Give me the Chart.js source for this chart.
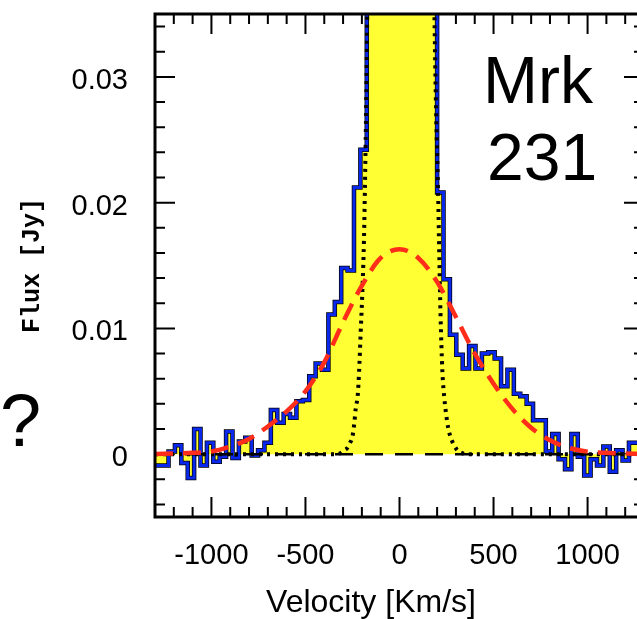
<!DOCTYPE html>
<html>
<head>
<meta charset="utf-8">
<script src="https://cdn.jsdelivr.net/npm/chart.js@4.4.1/dist/chart.umd.min.js"></script>
<style>
  html, body { margin: 0; padding: 0; background: #fff; overflow: hidden; }
  #frame { position: relative; width: 637px; height: 619px; overflow: hidden; }
  #box { position: absolute; left: 0; top: 0; width: 650px; height: 619px; }
  .note { position: absolute; font-family: 'Liberation Sans', Arial, sans-serif; color: #000; line-height: 1; white-space: nowrap; }
  #mrk { left: 483px; top: 47px; font-size: 66px; }
  #num { left: 487px; top: 124px; font-size: 66px; }
  #qm { left: 0px; top: 384px; font-size: 74px; }
  #xtitle { left: 371px; top: 585px; font-size: 32px; transform: translateX(-50%); }
</style>
</head>
<body>
<div id="frame">
  <div id="box"><canvas id="spec"></canvas></div>
  <div class="note" id="mrk">Mrk</div>
  <div class="note" id="num">231</div>
  <div class="note" id="qm">?</div>
  <div class="note" id="xtitle">Velocity [Km/s]</div>
</div>
<script>
// spectrum, binned: left edge of each bin (km/s) and flux (Jy)
const binEdges = [
  -1300, -1262, -1228, -1194, -1160, -1126, -1092, -1058, -1024, -990,
  -956, -922, -888, -854, -820, -786, -752, -718, -684, -650,
  -616, -582, -548, -514, -480, -446, -412, -378, -344, -310,
  -276, -242, -208, -174, -140, -106, -72, -38, -4, 30,
  64, 98, 132, 166, 200, 234, 268, 302, 336, 370,
  404, 438, 472, 506, 540, 574, 608, 642, 676, 710,
  744, 778, 812, 846, 880, 914, 948, 982, 1016, 1050,
  1084, 1118, 1152, 1186, 1220, 1254, 1288, 1300
];
const binFlux = [
  -0.0009, -0.0009, 0.0002, 0.0007, -0.0007, -0.0019, 0.0020, -0.0009, 0.0009, -0.0006,
  -0.0002, 0.0018, -0.0003, 0.0010, 0.0013, -0.0001, 0.0003, 0.0009, 0.0035, 0.0025,
  0.0032, 0.0029, 0.0042, 0.0043, 0.0062, 0.0072, 0.0067, 0.0111, 0.0121, 0.0148,
  0.0146, 0.0212, 0.0242, 0.041, 0.058, 0.079, 0.094, 0.104, 0.108, 0.103,
  0.090, 0.071, 0.052, 0.039, 0.0208, 0.0139, 0.0095, 0.0079, 0.0068, 0.0086,
  0.0068, 0.0080, 0.0081, 0.0076, 0.0054, 0.0067, 0.0048, 0.0046, 0.0040, 0.0027,
  0.0027, 0.0002, 0.0016, -0.0004, -0.0012, 0.0016, -0.0002, -0.0017, -0.0004, -0.0009,
  0.0006, -0.0014, 0.0003, -0.0005, 0.0009, 0.0009, 0.0004, 0.0004
];

// broad component (red dashed)
const broadVel = [-1300, -1200, -1100, -1000, -900, -800, -700, -600, -500, -400, -300, -200, -100,
  0, 100, 200, 300, 400, 500, 600, 700, 800, 900, 1000, 1100, 1200, 1300];
const broadFlux = [0, 0.00005, 0.0001, 0.0002, 0.0006, 0.0012, 0.0022, 0.0034, 0.0050, 0.0073, 0.0105, 0.0134, 0.0156,
  0.0163, 0.0156, 0.0137, 0.0109, 0.0080, 0.0056, 0.0036, 0.0021, 0.0011, 0.0005, 0.0002, 0.0001, 0.00005, 0];

// narrow component (black dotted), peak runs off the top
const narrowVel = [-1300, -330, -312, -295, -277, -263, -250, -240, -233, -222, -215, -206, -196, -189,
  -183, -177, -170, -160, -140, -100, -50, 0, 50, 100, 150, 175, 185, 195, 205, 212, 218, 228,
  238, 246, 260, 273, 290, 308, 330, 352, 1300];
const narrowFlux = [0, 0, 0.0001, 0.0003, 0.0005, 0.0009, 0.0014, 0.0025, 0.0036, 0.0047, 0.0065, 0.0098, 0.0135, 0.0170,
  0.022, 0.028, 0.037, 0.05, 0.09, 0.25, 0.5, 0.66, 0.52, 0.3, 0.09, 0.05, 0.036, 0.027, 0.021, 0.0155, 0.0112, 0.0066,
  0.0045, 0.0034, 0.0020, 0.0013, 0.0007, 0.0003, 0.0001, 0, 0];

const zeroVel = [-1300, 1300];
const zeroFlux = [0, 0];

const xMajor = [-1000, -500, 0, 500, 1000];
const xTickLabels = ['-1000', '-500', '0', '500', '1000'];
const yMajor = [0, 0.01, 0.02, 0.03];
const yTickLabels = ['0', '0.01', '0.02', '0.03'];

const pts = (xs, ys) => xs.map((v, i) => ({ x: v, y: ys[i] }));
const tickFont = { family: "'Liberation Sans', Arial, sans-serif", size: 29 };

// inward ticks on all four sides + heavy box, like the IDL original
const axisBox = {
  id: 'axisBox',
  beforeDatasetsDraw(chart) {
    const { ctx, chartArea: a, scales: { x, y } } = chart;
    ctx.save();
    ctx.strokeStyle = '#000';
    ctx.lineWidth = 2;
    ctx.beginPath();
    for (let i = -12; i <= 12; i++) {
      const px = x.getPixelForValue(i * 100);
      const len = i % 5 === 0 ? 20 : 10;
      ctx.moveTo(px, a.bottom); ctx.lineTo(px, a.bottom - len);
      ctx.moveTo(px, a.top); ctx.lineTo(px, a.top + len);
    }
    for (let i = -2; i <= 17; i++) {
      const py = y.getPixelForValue(i * 0.002);
      const len = i % 5 === 0 ? 20 : 10;
      ctx.moveTo(a.left, py); ctx.lineTo(a.left + len, py);
      ctx.moveTo(a.right, py); ctx.lineTo(a.right - len, py);
    }
    ctx.stroke();
    ctx.restore();
  },
  afterDatasetsDraw(chart) {
    const { ctx, chartArea: a } = chart;
    ctx.save();
    ctx.strokeStyle = '#000';
    ctx.lineWidth = 3;
    ctx.strokeRect(a.left, a.top, a.right - a.left, a.bottom - a.top);
    ctx.restore();
  }
};

new Chart(document.getElementById('spec'), {
  type: 'line',
  data: {
    datasets: [
      {
        label: 'broad',
        data: pts(broadVel, broadFlux),
        borderColor: 'rgb(255, 45, 25)',
        borderWidth: 4.5,
        borderDash: [18, 10],
        cubicInterpolationMode: 'monotone',
        pointRadius: 0,
        fill: false,
        order: 0,
      },
      {
        label: 'narrow',
        data: pts(narrowVel, narrowFlux),
        borderColor: '#000',
        borderWidth: 4,
        borderDash: [3, 5],
        cubicInterpolationMode: 'monotone',
        pointRadius: 0,
        fill: false,
        order: 1,
      },
      {
        label: 'zero',
        data: pts(zeroVel, zeroFlux),
        borderColor: '#000',
        borderWidth: 2.5,
        borderDash: [18, 12],
        pointRadius: 0,
        fill: false,
        order: 2,
      },
      {
        label: 'spectrum',
        data: pts(binEdges, binFlux),
        stepped: true,
        borderColor: 'rgb(10, 40, 235)',
        borderWidth: 3,
        pointRadius: 0,
        fill: false,
        order: 3,
      },
      {
        label: 'spectrum edge',
        data: pts(binEdges, binFlux),
        stepped: true,
        borderColor: '#000',
        borderWidth: 4.5,
        backgroundColor: '#ffff33',
        fill: 'origin',
        pointRadius: 0,
        order: 4,
      },
    ],
  },
  options: {
    responsive: true,
    maintainAspectRatio: false,
    devicePixelRatio: 1,
    animation: false,
    events: [],
    layout: { padding: { top: 14, right: 6, left: 0, bottom: 0 } },
    plugins: { legend: { display: false }, tooltip: { enabled: false } },
    scales: {
      x: {
        type: 'linear',
        min: -1300,
        max: 1300,
        grid: { display: false, drawTicks: false },
        border: { display: false },
        afterBuildTicks: (s) => { s.ticks = xMajor.map((v) => ({ value: v })); },
        afterFit: (s) => { s.height = 102; s.paddingLeft = 0; s.paddingRight = 0; },
        ticks: {
          font: tickFont,
          color: '#000',
          padding: 22,
          maxRotation: 0,
          autoSkip: false,
          callback: (v, i) => xTickLabels[i],
        },
      },
      y: {
        type: 'linear',
        min: -0.005,
        max: 0.035,
        grid: { display: false, drawTicks: false },
        border: { display: false },
        afterBuildTicks: (s) => { s.ticks = yMajor.map((v) => ({ value: v })); },
        afterFit: (s) => { s.width = 155; s.paddingTop = 0; s.paddingBottom = 0; },
        ticks: {
          font: tickFont,
          color: '#000',
          padding: 27,
          labelOffset: 4,
          autoSkip: false,
          callback: (v, i) => yTickLabels[i],
        },
        title: {
          display: true,
          text: 'Flux [Jy]',
          color: '#000',
          font: { family: "'Liberation Mono', monospace", size: 25, weight: 'bold' },
          padding: { top: 18, bottom: 0 },
        },
      },
    },
  },
  plugins: [axisBox],
});
</script>
</body>
</html>
